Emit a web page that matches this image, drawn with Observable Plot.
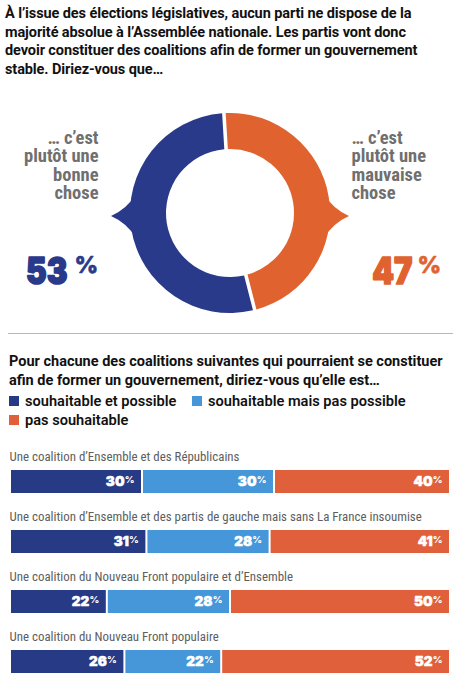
<!DOCTYPE html>
<html><head><meta charset="utf-8">
<script src="https://cdn.jsdelivr.net/npm/d3@7"></script>
<script src="https://cdn.jsdelivr.net/npm/@observablehq/plot@0.6"></script>
<style>
body{margin:0;width:460px;height:687px;position:relative;background:#fff;font-family:Roboto,"Noto Sans",sans-serif;overflow:hidden;color:#111}
.abs{position:absolute}
#t1{left:5px;top:5px;width:432px;font-weight:700;font-size:14.5px;line-height:18.6px;letter-spacing:-0.1px}
#donut{left:0;top:80px}
#sep{left:8px;top:333px;width:445px;height:0;border-top:1.3px solid #b4b4cc}
#t2{left:9px;top:352px;width:450px;font-weight:700;font-size:14.5px;line-height:19px}
.leg{font-weight:600;font-size:14.6px;line-height:18px;display:flex;align-items:center}
.sw{width:10px;height:10px;margin-right:6px;display:inline-block}
#bars{left:0;top:440px}
</style></head><body>
<div id="t1" class="abs"></div>
<div id="donut" class="abs"></div>
<div id="sep" class="abs"></div>
<div id="t2" class="abs"></div>
<div id="legend"></div>
<div id="bars" class="abs"></div>
<script>
// ---- data ----
const title1 = "À l’issue des élections législatives, aucun parti ne dispose de la majorité absolue à l’Assemblée nationale. Les partis vont donc devoir constituer des coalitions afin de former un gouvernement stable. Diriez-vous que…";
const donutLabels = ["… c’est\nplutôt une\nbonne\nchose", "… c’est\nplutôt une\nmauvaise\nchose"];
const donutValues = [53, 47];
const donutColors = ["#2a3a8b", "#e0632f"];

const title2 = "Pour chacune des coalitions suivantes qui pourraient se constituer afin de former un gouvernement, diriez-vous qu’elle est…";
const categories = ["souhaitable et possible", "souhaitable mais pas possible", "pas souhaitable"];
const catColors = ["#263a86", "#4597da", "#e0603b"];
const coalitions = [
  "Une coalition d’Ensemble et des Républicains",
  "Une coalition d’Ensemble et des partis de gauche mais sans La France insoumise",
  "Une coalition du Nouveau Front populaire et d’Ensemble",
  "Une coalition du Nouveau Front populaire"
];
const souhaitablePossible = [30, 31, 22, 26];
const souhaitablePasPossible = [30, 28, 28, 22];
const pasSouhaitable = [40, 41, 50, 52];

// ---- titles & legend ----
document.getElementById("t1").textContent = title1;
document.getElementById("t2").textContent = title2;
const legendRows = [[0, 1], [2]];
const legend = document.getElementById("legend");
legendRows.forEach((row, r) => {
  row.forEach((ci, k) => {
    const d = document.createElement("div");
    d.className = "abs leg";
    d.style.left = (9 + k * 183) + "px";
    d.style.top = (392 + r * 18.5) + "px";
    d.innerHTML = `<span class="sw" style="background:${catColors[ci]}"></span>${categories[ci]}`;
    legend.appendChild(d);
  });
});

const condFont = `"Roboto Condensed",Roboto,sans-serif`;
const bigFont = `Inter,"Roboto",sans-serif`;
// squeeze texts horizontally (keeps their anchor point)
function squeeze(svg, selector, s) {
  d3.select(svg).selectAll(selector).each(function () {
    const t = this.getAttribute("transform") || "";
    const x = this.getAttribute("x");
    if (x) this.setAttribute("x", +x / s);
    this.setAttribute("transform", `${t} scale(${s},1)`);
  });
}

// ---- donut ----
function donutMark(index, scales, values, dim) {
  const cx = dim.width / 2, cy = 133, R = 100, r = 64;
  const g = d3.create("svg:g");
  const start = -3.5 * Math.PI / 180;
  const pie = d3.pie().sort(null).value(i => donutValues[i])
    .startAngle(start).endAngle(start + 2 * Math.PI);
  const arcs = pie([1, 0]);
  const arc = d3.arc().innerRadius(r).outerRadius(R).padAngle(0.03);
  g.selectAll("path.a").data(arcs).join("path")
    .attr("transform", `translate(${cx},${cy})`)
    .attr("d", arc).attr("fill", d => donutColors[d.data]);
  // notches pointing at the labels
  [[0, -1], [1, 1]].forEach(([i, s]) => {
    const p = d3.path();
    p.moveTo(cx + s * (R - 6), cy - 19);
    p.quadraticCurveTo(cx + s * (R + 3), cy - 4, cx + s * (R + 19), cy + 3);
    p.quadraticCurveTo(cx + s * (R + 3), cy + 10, cx + s * (R - 6), cy + 25);
    p.closePath();
    g.append("path").attr("d", p.toString()).attr("fill", donutColors[i]);
  });
  return g.node();
}
const numSize = 37, pctSize = 23;
const lab = {fontSize: 18.5, fontWeight: 700, lineHeight: 1.0, fill: "#6f6f6f", fontFamily: condFont, lineAnchor: "top", text: d => d};
const numStyle = {fontSize: numSize, fontWeight: 900, fontFamily: bigFont, letterSpacing: -2, strokeWidth: 1.6, strokeLinejoin: "round", lineAnchor: "top"};
const pctStyle = {fontSize: pctSize, fontWeight: 800, fontFamily: bigFont, lineAnchor: "top", strokeWidth: 0.6};
const donut = Plot.plot({
  width: 460, height: 245, margin: 0,
  x: {axis: null}, y: {axis: null},
  marks: [
    donutMark,
    Plot.text([donutLabels[0]], {...lab, frameAnchor: "top-left", dx: 98, dy: 50, textAnchor: "end"}),
    Plot.text([donutLabels[1]], {...lab, frameAnchor: "top-left", dx: 351, dy: 50, textAnchor: "start"}),
    Plot.text([donutValues[0]], {...numStyle, frameAnchor: "top-left", dx: 67, dy: 203 - 0.71 * numSize, textAnchor: "end",
      text: d => String(d), fill: donutColors[0], stroke: donutColors[0]}),
    Plot.text([donutValues[0]], {...pctStyle, frameAnchor: "top-left", dx: 74, dy: 176, textAnchor: "start",
      text: () => "%", fill: donutColors[0], stroke: donutColors[0]}),
    Plot.text([donutValues[1]], {...numStyle, frameAnchor: "top-left", dx: 412, dy: 203 - 0.71 * numSize, textAnchor: "end",
      text: d => String(d), fill: donutColors[1], stroke: donutColors[1]}),
    Plot.text([donutValues[1]], {...pctStyle, frameAnchor: "top-left", dx: 417, dy: 176, textAnchor: "start",
      text: () => "%", fill: donutColors[1], stroke: donutColors[1]})
  ]
});
document.getElementById("donut").appendChild(donut);
squeeze(donut, `g[font-size="${numSize}"] text`, 0.84);

// ---- stacked bars ----
const series = [souhaitablePossible, souhaitablePasPossible, pasSouhaitable];
const rows = [];
coalitions.forEach((c, i) => categories.forEach((cat, j) => rows.push({coalition: c, category: cat, value: series[j][i]})));
const stackOpts = {x: "value", y: "coalition", z: "category", order: categories};
const bars = Plot.plot({
  width: 460, height: 247,
  marginLeft: 10, marginRight: 10, marginTop: 29, marginBottom: 14,
  x: {domain: [0, 100], axis: null},
  y: {domain: coalitions, axis: null, paddingInner: 0.617, paddingOuter: 0},
  color: {domain: categories, range: catColors},
  marks: [
    Plot.barX(rows, {...stackOpts, fill: "category", insetLeft: 1, insetRight: 1}),
    Plot.text(rows, Plot.stackX2({...stackOpts, text: d => String(d.value), textAnchor: "end", dx: -18,
      fill: "white", stroke: "white", strokeWidth: 0.5, fontSize: 13.5, fontWeight: 900, fontFamily: bigFont, letterSpacing: -0.6})),
    Plot.text(rows, Plot.stackX2({...stackOpts, text: () => "%", textAnchor: "end", dx: -8, dy: -2,
      fill: "white", fontSize: 9.5, fontWeight: 800, fontFamily: bigFont})),
    Plot.text(coalitions, {y: d => d, x: 0, text: d => d, textAnchor: "start", dx: -1, dy: -25,
      fill: "#5e5e5e", fontSize: 12.9, fontWeight: 400, fontFamily: condFont})
  ]
});
document.getElementById("bars").appendChild(bars);
</script>
</body></html>
